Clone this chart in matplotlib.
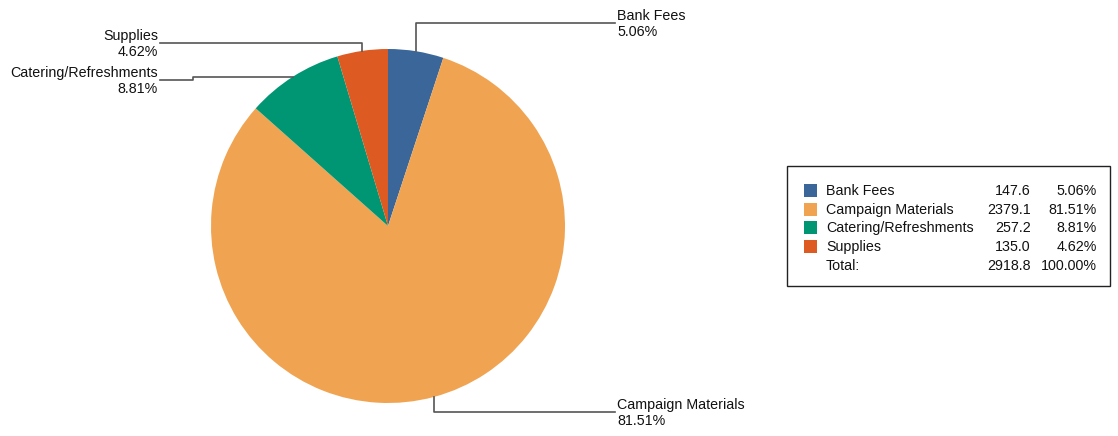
import matplotlib.pyplot as plt
import numpy as np
from matplotlib.patches import Rectangle

plt.rcParams["font.family"] = ["Liberation Sans", "DejaVu Sans"]

labels = ["Bank Fees", "Campaign Materials", "Catering/Refreshments", "Supplies"]
values = [147.6, 2379.1, 257.2, 135.0]
pcts = [5.06, 81.51, 8.81, 4.62]
total = 2918.8
colors = ["#3A6699", "#F0A452", "#009673", "#DD5A22"]

W, H = 1118, 436
CX, CY, R = 388, 226, 177
FS = 10.3

fig = plt.figure(figsize=(W / 100, H / 100), dpi=100)
ax = fig.add_axes([0, 0, 1, 1])


def py(y):
    # pixel row (from top) -> data y
    return H - y


wedges, _ = ax.pie(pcts, colors=colors, startangle=90, counterclock=False,
                   center=(CX, py(CY)), radius=R, frame=True)
ax.set_xlim(0, W)
ax.set_ylim(0, H)
ax.set_aspect("equal")
ax.axis("off")

# leader lines: (label y, text x, side, elbow x)
label_pos = [(23, 617, "right", None), (412, 617, "right", None),
             (80, 158, "left", 193), (43, 158, "left", None)]

cum = 0
for i, p in enumerate(pcts):
    mid = np.deg2rad(90 - (cum + p / 2) * 3.6)
    cum += p
    ex = CX + R * np.cos(mid)
    ey = CY - R * np.sin(mid)
    ly, tx, side, elbow = label_pos[i]
    if side == "right":
        xs = [ex, ex, tx - 2]
        ys = [ey, ly, ly]
        ha = "left"
    elif elbow is None:
        xs = [ex, ex, tx + 2]
        ys = [ey, ly, ly]
        ha = "right"
    else:
        xs = [ex, elbow, elbow, tx + 2]
        ys = [ey, ey, ly, ly]
        ha = "right"
    ax.plot(xs, [py(v) for v in ys], color="#555555", lw=1.2)
    ax.text(tx, py(ly) - 1, f"{labels[i]}\n{p:.2f}%", ha=ha, va="center",
            fontsize=FS, linespacing=1.15, color="#111111")

# legend box
ax.add_patch(Rectangle((787, py(286)), 323, 120, fill=False, ec="#222222", lw=1))
row_y = [191, 210, 228, 247, 266]
for i, lab in enumerate(labels):
    y = row_y[i]
    ax.add_patch(Rectangle((804, py(y) - 6.5), 13, 13, color=colors[i], lw=0))
    ax.text(826, py(y), lab, ha="left", va="center", fontsize=FS, color="#111111")
    ax.text(1031, py(y), f"{values[i]:.1f}", ha="right", va="center", fontsize=FS, color="#111111")
    ax.text(1097, py(y), f"{pcts[i]:.2f}%", ha="right", va="center", fontsize=FS, color="#111111")
ax.text(826, py(row_y[4]), "Total:", ha="left", va="center", fontsize=FS, color="#111111")
ax.text(1031, py(row_y[4]), f"{total:.1f}", ha="right", va="center", fontsize=FS, color="#111111")
ax.text(1097, py(row_y[4]), f"{sum(pcts):.2f}%", ha="right", va="center", fontsize=FS, color="#111111")

fig.savefig("out.png", dpi=100)
